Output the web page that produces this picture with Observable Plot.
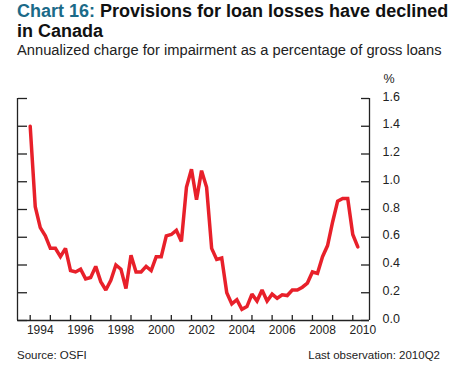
<!DOCTYPE html>
<html>
<head>
<meta charset="utf-8">
<script src="https://cdn.jsdelivr.net/npm/d3@7"></script>
<script src="https://cdn.jsdelivr.net/npm/@observablehq/plot@0.6"></script>
<style>
  html, body { margin: 0; padding: 0; background: #fff; }
  body { width: 456px; height: 370px; overflow: hidden; font-family: "Liberation Sans", Arial, sans-serif; color: #222; }
  #header { position: relative; height: 60px; }
  .title { position: absolute; left: 17px; font-size: 18px; line-height: 20.1px; font-weight: bold; color: #111; white-space: nowrap; }
  #t1 { top: 1.2px; }
  #t2 { top: 21.3px; }
  .title .num { color: #1b6a88; }
  #subtitle { position: absolute; left: 17px; top: 41.6px; font-size: 14.7px; line-height: 16.4px; color: #222; white-space: nowrap; }
  #chart svg { display: block; }
  #caption { position: relative; height: 25px; font-size: 11.5px; line-height: 13px; color: #222; }
  #caption .left { position: absolute; left: 17px; top: 4px; }
  #caption .right { position: absolute; right: 16px; top: 4px; }
</style>
</head>
<body>
<div id="header">
  <div class="title" id="t1"><span class="num">Chart 16:</span> Provisions for loan losses have declined</div>
  <div class="title" id="t2">in Canada</div>
  <div id="subtitle">Annualized charge for impairment as a percentage of gross loans</div>
</div>
<div id="chart"></div>
<div id="caption"><span class="left">Source: OSFI</span><span class="right">Last observation: 2010Q2</span></div>
<script>
// Quarterly data, first observation 1994Q1, last 2010Q2
const startYear = 1994;
const provisions = [
  1.40, 0.82, 0.67, 0.61,
  0.52, 0.52, 0.46, 0.52,
  0.36, 0.35, 0.37, 0.30,
  0.31, 0.39, 0.28, 0.22,
  0.29, 0.40, 0.37, 0.23,
  0.47, 0.35, 0.35, 0.39,
  0.36, 0.46, 0.46, 0.61,
  0.62, 0.65, 0.57, 0.96,
  1.09, 0.87, 1.08, 0.96,
  0.52, 0.44, 0.45, 0.20,
  0.12, 0.15, 0.08, 0.10,
  0.19, 0.14, 0.22, 0.14,
  0.19, 0.16, 0.185, 0.18,
  0.22, 0.22, 0.24, 0.27,
  0.35, 0.34, 0.46, 0.54,
  0.71, 0.86, 0.88, 0.88,
  0.62, 0.53
];
const yearTicks = d3.range(1994, 2011);
const yearLabels = [1994, 1996, 1998, 2000, 2002, 2004, 2006, 2008, 2010];
const yTicks = [0, 0.2, 0.4, 0.6, 0.8, 1.0, 1.2, 1.4, 1.6];
const xDomain = [1993.37, 2010.83];

const data = provisions.map((v, i) => ({t: startYear + i / 4, v}));

const axisColor = "#222";

const chart = Plot.plot({
  width: 456,
  height: 285,
  marginLeft: 17,
  marginRight: 87,
  marginTop: 38,
  marginBottom: 25,
  style: {fontFamily: "\"Liberation Sans\", Arial, sans-serif", fontSize: "12px", color: axisColor, background: "white"},
  x: {domain: xDomain, axis: null},
  y: {domain: [0, 1.6], axis: null},
  marks: [
    // frame: left, right, bottom
    Plot.ruleX(xDomain, {stroke: axisColor, strokeWidth: 1.3}),
    Plot.ruleY([0], {stroke: axisColor, strokeWidth: 1.3}),
    // inward ticks on the right
    Plot.axisY({anchor: "left", frameAnchor: "right", ticks: yTicks, tickSize: 8, tickFormat: null, text: null, label: null, stroke: axisColor, strokeWidth: 1.3}),
    // inward ticks on the left
    Plot.axisY({anchor: "right", frameAnchor: "left", ticks: yTicks, tickSize: 9, tickFormat: null, text: null, label: null, stroke: axisColor, strokeWidth: 1.3}),
    // inward ticks at bottom
    Plot.axisX({anchor: "top", frameAnchor: "bottom", ticks: yearTicks, tickSize: 6, tickFormat: null, text: null, label: null, stroke: axisColor, strokeWidth: 1.3}),
    // y tick labels on right
    Plot.axisY({anchor: "right", ticks: yTicks, tickSize: 0, tickPadding: 13, tickFormat: d3.format(".1f"), label: null, textAnchor: "start", dy: -2, fill: axisColor, fontSize: 12.5}),
    // x labels between year ticks
    Plot.text(yearLabels, {x: d => d + 0.5, frameAnchor: "bottom", dy: 13, text: d => String(d), fill: axisColor}),
    // % unit label
    Plot.text(["%"], {frameAnchor: "top-right", dx: 25, dy: -24, text: d => d, fill: axisColor, fontSize: 12.5}),
    // the series
    Plot.line(data, {x: "t", y: "v", stroke: "#e8202a", strokeWidth: 3.5, strokeLinejoin: "miter", strokeMiterlimit: 2})
  ]
});
document.getElementById("chart").appendChild(chart);
</script>
</body>
</html>
